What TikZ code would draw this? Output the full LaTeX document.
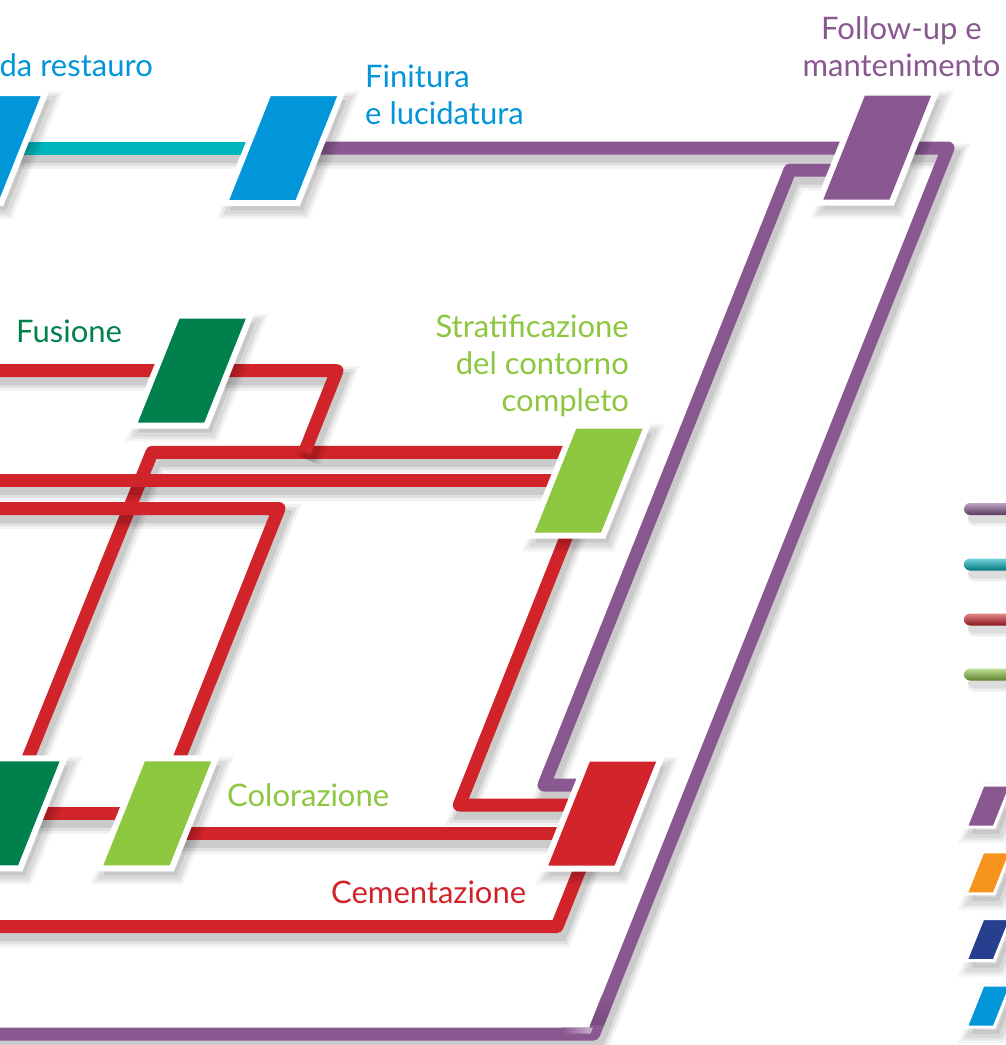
\documentclass[tikz,border=0pt]{standalone}
\usepackage{fontspec}
\setmainfont{Lato}
\usetikzlibrary{calc}
\definecolor{cblue}{RGB}{0,150,217}
\definecolor{cteal}{RGB}{0,181,189}
\definecolor{cpurple}{RGB}{138,88,145}
\definecolor{cred}{RGB}{209,35,42}
\definecolor{cdgreen}{RGB}{0,128,76}
\definecolor{clgreen}{RGB}{141,198,63}
\definecolor{corange}{RGB}{247,148,29}
\definecolor{cnavy}{RGB}{38,64,143}
\pgfdeclarelayer{bg}
\pgfdeclarelayer{lines}
\pgfsetlayers{bg,lines,main}
\tikzset{
  lineshadow/.style={
    preaction={draw=black, draw opacity=0.05, line width=25pt, transform canvas={shift={(4pt,-8pt)}}},
    preaction={draw=black, draw opacity=0.07, line width=19pt, transform canvas={shift={(4pt,-8pt)}}},
    preaction={draw=black, draw opacity=0.09, line width=13pt, transform canvas={shift={(4pt,-8pt)}}}},
  metro/.style={line width=13pt, line join=round, lineshadow},
  stshadow/.style={
    preaction={fill=black, fill opacity=0.08, transform canvas={shift={(5pt,-7pt)}}},
    preaction={draw=black, draw opacity=0.06, line width=8pt, transform canvas={shift={(5pt,-7pt)}}},
    preaction={draw=black, draw opacity=0.05, line width=13pt, transform canvas={shift={(5pt,-7pt)}}},
    preaction={draw=black, draw opacity=0.04, line width=18pt, transform canvas={shift={(5pt,-7pt)}}}},
  station/.style={draw=white, line width=6pt, minimum width=73pt, minimum height=110pt,
    inner sep=0pt, outer sep=0pt, xslant=0.4, transform shape, stshadow},
  legstation/.style={draw=white, line width=3pt, minimum width=28pt, minimum height=42pt,
    inner sep=0pt, outer sep=0pt, xslant=0.4, transform shape, stshadow},
  label/.style={font=\fontsize{31}{37}\selectfont, inner sep=0pt},
}
\begin{document}
\begin{tikzpicture}[x=1pt,y=-1pt]
\useasboundingbox (0,0) rectangle (1006,1045);
\clip (0,0) rectangle (1006,1045);
\begin{pgfonlayer}{bg}
\fill[white] (0,0) rectangle (1006,1045);
\end{pgfonlayer}

% stations
\node[station, fill=cblue] (rest) at (-13.3,148) {};
\node[station, fill=cblue] (fin) at (283.25,148) {};
\node[station, fill=cpurple] (fu) at (877.25,147.5) {};
\node[station, fill=cdgreen] (fus) at (191.8,370.7) {};
\node[station, fill=clgreen] (strat) at (588.6,480.7) {};
\node[station, fill=cdgreen] (dg) at (5.7,813.4) {};
\node[station, fill=clgreen] (col) at (157.25,813.4) {};
\node[station, fill=cred] (cem) at (602.25,813.5) {};

% free ends
\coordinate (eA) at (-20,370.7);
\coordinate (eC) at (-20,480.7);
\coordinate (eD) at (-20,508.5);
\coordinate (eG) at (-20,926.5);
\coordinate (eP) at (-20,1034);

\begin{pgfonlayer}{lines}
\draw[metro, cpurple] (fin.center) -- (948,148) -- (593.6,1034) -- (eP);
% glossy bend at the bottom corner of the outer purple line
\shade[top color=cpurple, middle color=cpurple!30!black, bottom color=cpurple!85!black]
  (601.6,996) -- (615.6,996) -- (604.2,1025) -- (590.2,1025) -- cycle;
\shade[left color=cpurple, right color=cpurple!45!white]
  (562,1027.5) -- (593,1027.5) -- (590.6,1033.5) -- (562,1033.5) -- cycle;
\draw[metro, cteal] (rest.center) -- (fin.center);
\draw[metro, cpurple] ($(fu.center)+(0,22.5)$) -- (790,170) -- (544,785) -- ($(cem.center)+(0,-28.5)$);
\draw[metro, cred] ($(strat.center)+(0,-28.4)$) -- (152,452.3) -- (dg.center);
\draw[metro, cred] (eC) -- (strat.center);
\draw[metro, cred] (eD) -- (279,508.5) -- (col.center);
\draw[metro, cred] (eA) -- (fus.center) -- (337,370.7) -- (304.5,452.3);
\draw[metro, cred] (strat.center) -- (459.3,805) -- ($(cem.center)+(0,-8.5)$);
\draw[metro, cred] (dg.center) -- (col.center);
\draw[metro, cred] ($(col.center)+(0,19.6)$) -- ($(cem.center)+(0,19.5)$);
\draw[metro, cred] (eG) -- (557,926.5) -- (cem.center);
\end{pgfonlayer}

% labels
\node[label, cblue, anchor=base east] (lrest) at (153,76) {da restauro};
\node[label, cblue, anchor=base west, align=left] (lfin) at (365,124) {Finitura\\e lucidatura};
\node[label, cpurple, anchor=base, align=center] (lfu) at (901.5,76.7) {Follow-up e\\mantenimento};
\node[label, cdgreen, anchor=base west] (lfus) at (16,342.7) {Fusione};
\node[label, clgreen, anchor=base east, align=right] (lstrat) at (629,411.7) {Stratificazione\\del contorno\\completo};
\node[label, clgreen, anchor=base west] (lcol) at (227,806) {Colorazione};
\node[label, cred, anchor=base west] (lcem) at (331,903.3) {Cementazione};

% legend bars
\foreach \yy/\cc in {509/cpurple, 564.5/cteal, 619.5/cred, 674.5/clgreen}{
  \fill[black, opacity=0.06, rounded corners=6pt] (968,\yy+2) rectangle (1040,\yy+17);
  \fill[black, opacity=0.08, rounded corners=6pt] (968,\yy+4) rectangle (1040,\yy+14);
  \shade[rounded corners=6pt, top color=\cc!55!white, middle color=\cc, bottom color=\cc!65!black]
    (964,\yy-6) rectangle (1040,\yy+6);
}
% legend stations
\node[legstation, fill=cpurple] (k1) at (988.5,806.2) {};
\node[legstation, fill=corange] (k2) at (988.5,872.8) {};
\node[legstation, fill=cnavy] (k3) at (988.5,939.5) {};
\node[legstation, fill=cblue] (k4) at (988.5,1006.2) {};
\end{tikzpicture}
\end{document}
